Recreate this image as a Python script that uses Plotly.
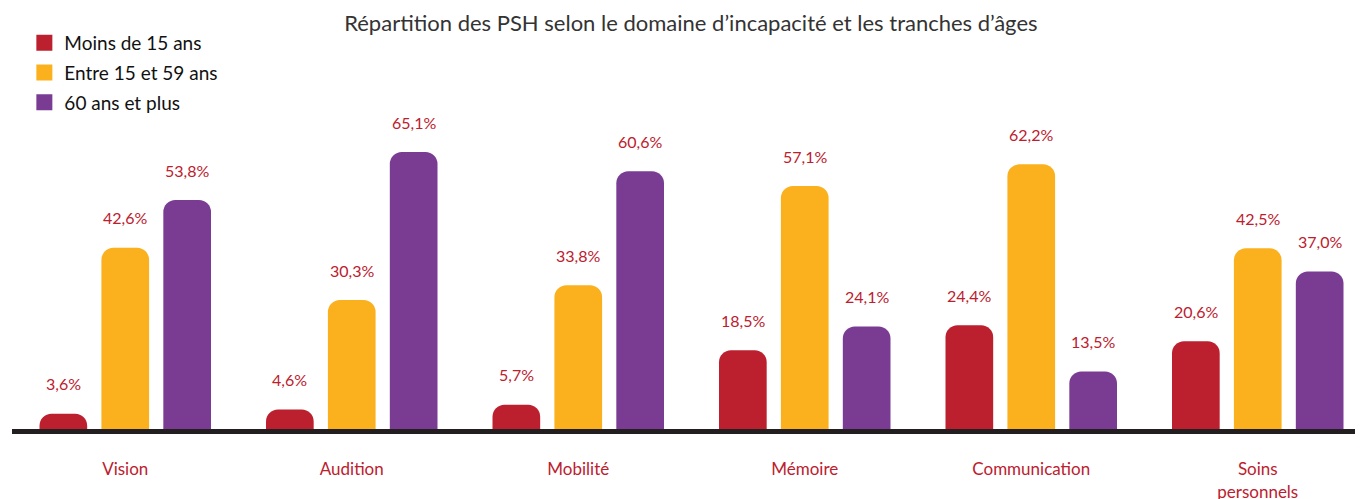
import plotly.graph_objects as go

categories = ["Vision", "Audition", "Mobilité", "Mémoire", "Communication", "Soins<br>personnels"]
series_names = ["Moins de 15 ans", "Entre 15 et 59 ans", "60 ans et plus"]
moins_15 = [3.6, 4.6, 5.7, 18.5, 24.4, 20.6]
entre_15_59 = [42.6, 30.3, 33.8, 57.1, 62.2, 42.5]
plus_60 = [53.8, 65.1, 60.6, 24.1, 13.5, 37.0]

colors = ["#BC202E", "#FBB11E", "#7A3B93"]
label_red = "#BC202E"
font_family = "Lato, 'Open Sans', sans-serif"

fig = go.Figure()
all_series = [moins_15, entre_15_59, plus_60]
for name, vals, col in zip(series_names, all_series, colors):
    fig.add_trace(go.Bar(x=categories, y=vals, name=name, marker=dict(color=col, line=dict(width=0)),
                         showlegend=False, hoverinfo="y"))
    fig.add_trace(go.Scatter(x=[None], y=[None], mode="markers", name=name,
                             marker=dict(symbol="square", size=16, color=col)))

slot_px = 62
for i, vals in enumerate(all_series):
    for cat, v in zip(categories, vals):
        fig.add_annotation(x=cat, y=v, text=f"{v:.1f}%".replace(".", ","), showarrow=False,
                           xshift=(i - 1) * slot_px, yshift=30,
                           font=dict(size=16, color=label_red, family=font_family))

fig.update_layout(
    width=1363, height=499,
    barmode="group", bargap=0.18, bargroupgap=0.23, barcornerradius=12,
    paper_bgcolor="white", plot_bgcolor="white",
    margin=dict(l=4, r=0, t=104, b=78, autoexpand=False),
    title=dict(text="Répartition des PSH selon le domaine d’incapacité et les tranches d’âges",
               x=0.501, xanchor="center", xref="container", yref="container", y=0.97, yanchor="middle",
               font=dict(size=22, color="#333333", family=font_family)),
    legend=dict(xref="container", yref="container", x=0.012, y=0.968, xanchor="left", yanchor="top",
                font=dict(size=19, color="#111111", family=font_family), tracegroupgap=2,
                itemwidth=30, bgcolor="rgba(0,0,0,0)"),
    xaxis=dict(showline=True, linewidth=5, linecolor="#231F20", ticks="outside", ticklen=21,
               tickcolor="rgba(0,0,0,0)", showgrid=False, zeroline=False,
               tickfont=dict(size=17, color=label_red, family=font_family)),
    yaxis=dict(visible=False, range=[0, 74.5], showgrid=False, zeroline=False),
    font=dict(family=font_family),
)
for j, tr in enumerate(fig.data):
    tr.legendgroup = f"g{j}"

fig.write_html("out.html")
